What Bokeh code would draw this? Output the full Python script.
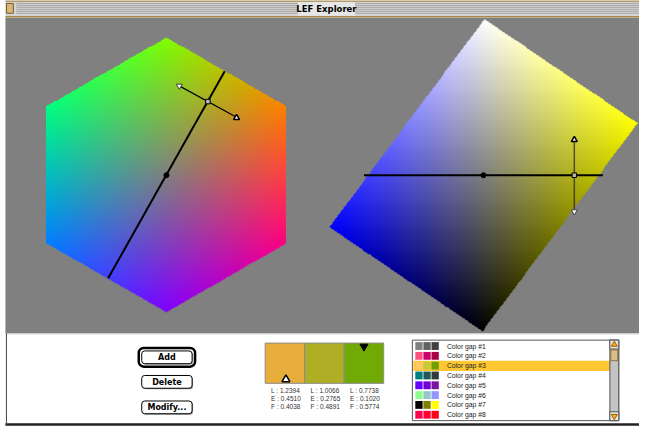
import numpy as np
from bokeh.plotting import figure
from bokeh.models import Range1d, ColumnDataSource
from bokeh.embed import file_html
from bokeh.resources import INLINE
from bokeh.core.properties import value

# ---------------- data ----------------
window_title = "LEF Explorer"
button_labels = ["Add", "Delete", "Modify..."]
swatch_colors = ["#e8ae3c", "#afae24", "#70aa02"]
L_vals = [1.2394, 1.0066, 0.7738]
E_vals = [0.4510, 0.2765, 0.1020]
F_vals = [0.4038, 0.4891, 0.5774]
gap_names = ["Color gap #1", "Color gap #2", "Color gap #3", "Color gap #4",
             "Color gap #5", "Color gap #6", "Color gap #7", "Color gap #8"]
gap_colors = [
    ["#808080", "#606060", "#404040"],
    ["#ff5080", "#c8006e", "#aa0046"],
    ["#ffc864", "#c8c83c", "#6ea000"],
    ["#008080", "#1e5a5a", "#323c3c"],
    ["#6400ff", "#6e00d2", "#7814a0"],
    ["#8cff8c", "#96c8c8", "#9696ff"],
    ["#000000", "#808000", "#ffff00"],
    ["#ff0050", "#ff0032", "#ff0014"],
]
selected_gap = 2

# ---------------- layout helpers ----------------
WR, HR = 647, 435


def Y(y):
    return HR - y


p = figure(width=639, height=427, x_range=Range1d(0, WR), y_range=Range1d(0, HR),
           output_backend="svg", toolbar_location=None, min_border=0,
           x_axis_location=None, y_axis_location=None)
p.grid.visible = False
p.outline_line_color = None
p.background_fill_color = "white"
p.border_fill_color = "white"

# title bar
p.quad(left=[5], right=[WR], top=[Y(0)], bottom=[Y(17)], fill_color="#d4d4d4", line_color=None)
sy = [3, 5, 7, 9, 11, 13]
p.segment(x0=[16] * len(sy), x1=[WR] * len(sy), y0=[Y(v) for v in sy], y1=[Y(v) for v in sy],
          line_color="#a6a6a6", line_width=1)
p.quad(left=[301], right=[359], top=[Y(1.5)], bottom=[Y(15.5)], fill_color="#e6e6e6", line_color=None)
p.text(x=[330], y=[Y(8.5)], text=[window_title], text_font=value("DejaVu Sans"),
       text_font_size=value("8.5px"), text_font_style="bold", text_align="center",
       text_baseline="middle", text_color="black")
p.quad(left=[6], right=[13], top=[Y(3)], bottom=[Y(13)], fill_color="#d8b878", line_color="#7a5a28")
p.segment(x0=[5, 5], x1=[WR, WR], y0=[Y(0.5), Y(16.5)], y1=[Y(0.5), Y(16.5)],
          line_color="#a88844", line_width=1.5)

# content grey
p.quad(left=[5], right=[WR], top=[Y(17.5)], bottom=[Y(339)], fill_color="#808080", line_color=None)


# hexagon colour plane
def hex_image():
    x0, x1, y0, y1 = 44, 292, 36, 320
    s = 2
    nx, ny = (x1 - x0) * s, (y1 - y0) * s
    xs = x0 + (np.arange(nx) + 0.5) / s
    ys = y0 + (np.arange(ny) + 0.5) / s
    X, YY = np.meshgrid(xs, ys)
    cx, cy, R = 167.5, 178.0, 139.5
    u = (X - cx) / R
    v = -(YY - cy) / R
    r = 128 + 146.6 * u
    g = 128 - 73.3 * u + 127 * v
    b = 128 - 73.9 * u - 128 * v
    mask = (np.abs(u) <= np.sqrt(3) / 2) & (np.abs(v) + np.abs(u) / np.sqrt(3) <= 1)
    img = np.zeros((ny, nx), dtype=np.uint32)
    view = img.view(dtype=np.uint8).reshape((ny, nx, 4))
    view[..., 0] = np.clip(r, 0, 255)
    view[..., 1] = np.clip(g, 0, 255)
    view[..., 2] = np.clip(b, 0, 255)
    view[..., 3] = np.where(mask, 255, 0)
    return img[::-1], x0, y1, x1 - x0, y1 - y0


img, ix, iy, dw, dh = hex_image()
p.image_rgba(image=[img], x=ix, y=Y(iy), dw=dw, dh=dh)


# lightness / yellow-blue plane
def rect_image():
    x0, x1, y0, y1 = 328, WR, 16, 340
    s = 2
    nx, ny = (x1 - x0) * s, (y1 - y0) * s
    xs = x0 + (np.arange(nx) + 0.5) / s
    ys = y0 + (np.arange(ny) + 0.5) / s
    X, YY = np.meshgrid(xs, ys)
    cx, cy = 489.0, 178.0
    a = np.array([156.0, -53.0])
    bvec = np.array([1.0, -159.0])
    M = np.array([[a[0], bvec[0]], [a[1], bvec[1]]])
    Mi = np.linalg.inv(M)
    dx, dy = X - cx, YY - cy
    sa = Mi[0, 0] * dx + Mi[0, 1] * dy
    tb = Mi[1, 0] * dx + Mi[1, 1] * dy
    mask = np.abs(sa) + np.abs(tb) <= 1
    r = 127.5 + 127.5 * sa + 127.5 * tb
    b = 127.5 - 127.5 * sa + 127.5 * tb
    img = np.zeros((ny, nx), dtype=np.uint32)
    view = img.view(dtype=np.uint8).reshape((ny, nx, 4))
    view[..., 0] = np.clip(r, 0, 255)
    view[..., 1] = np.clip(r, 0, 255)
    view[..., 2] = np.clip(b, 0, 255)
    view[..., 3] = np.where(mask, 255, 0)
    return img[::-1], x0, y1, x1 - x0, y1 - y0


img2, ix2, iy2, dw2, dh2 = rect_image()
p.image_rgba(image=[img2], x=ix2, y=Y(iy2), dw=dw2, dh=dh2)

# hexagon overlays
p.segment(x0=[109], y0=[Y(283)], x1=[227], y1=[Y(72)], line_color="black", line_width=2)
p.segment(x0=[181], y0=[Y(87)], x1=[239], y1=[Y(119)], line_color="black", line_width=1.2)
p.scatter(x=[168], y=[Y(178)], size=5, marker="circle", color="black")
p.scatter(x=[210], y=[Y(103)], size=4.5, marker="square", fill_color="#b8b8c8", line_color="black")
p.scatter(x=[181], y=[Y(87)], size=6, marker="inverted_triangle", fill_color="white", line_color="#444444")
p.scatter(x=[239], y=[Y(119.5)], size=6, marker="triangle", fill_color="white", line_color="black", line_width=1.5)

# rect overlays
p.segment(x0=[368], y0=[Y(178)], x1=[610], y1=[Y(178)], line_color="black", line_width=2)
p.segment(x0=[581], y0=[Y(142)], x1=[581], y1=[Y(215)], line_color="#222222", line_width=1.5, line_alpha=0.7)
p.scatter(x=[489], y=[Y(178)], size=5, marker="circle", color="black")
p.scatter(x=[581], y=[Y(178)], size=4.5, marker="square", fill_color="#b8b8a0", line_color="black")
p.scatter(x=[581], y=[Y(142)], size=6, marker="triangle", fill_color="white", line_color="black", line_width=1.5)
p.scatter(x=[581], y=[Y(215)], size=6, marker="inverted_triangle", fill_color="white", line_color="#444444")

# bottom panel
p.quad(left=[5], right=[WR], top=[Y(339)], bottom=[Y(431)], fill_color="white", line_color=None)
p.segment(x0=[5], x1=[WR], y0=[Y(339.5)], y1=[Y(339.5)], line_color="#bdbdbd", line_width=1)
p.segment(x0=[5], x1=[WR], y0=[Y(432)], y1=[Y(432)], line_color="#222222", line_width=2.5)
p.segment(x0=[6], x1=[6], y0=[Y(339)], y1=[Y(433)], line_color="#444444", line_width=1)

# buttons
btn_top = [357, 382, 408]
btn_h = 13
for i, lab in enumerate(button_labels):
    t = btn_top[i]
    p.quad(left=[144], right=[195], top=[Y(t + 1)], bottom=[Y(t + btn_h + 1)],
           fill_color="#9a9a9a", line_color=None, border_radius=3)
    p.quad(left=[143], right=[194], top=[Y(t)], bottom=[Y(t + btn_h)],
           fill_color="white", line_color="black", line_width=1, border_radius=3)
    p.text(x=[168.5], y=[Y(t + btn_h / 2 + 0.5)], text=[lab], text_font=value("DejaVu Sans"),
           text_font_size=value("8px"), text_font_style="bold", text_align="center",
           text_baseline="middle", text_color="black")
p.quad(left=[140], right=[197], top=[Y(354)], bottom=[Y(373)], fill_color=None,
       line_color="black", line_width=2.5, border_radius=5)

# swatches
sw_left = [268, 308, 348]
p.quad(left=sw_left, right=[v + 40 for v in sw_left], top=[Y(349)] * 3, bottom=[Y(390)] * 3,
       fill_color=swatch_colors, line_color="#8a8a8a", line_width=1)
p.scatter(x=[289], y=[Y(386)], size=8, marker="triangle", fill_color="white", line_color="black", line_width=1.5)
p.scatter(x=[368], y=[Y(352.5)], size=8, marker="inverted_triangle", fill_color="black", line_color="black")
tx, ty, tt = [], [], []
for i in range(3):
    for j, (lab, vals) in enumerate([("L", L_vals), ("E", E_vals), ("F", F_vals)]):
        tx.append(sw_left[i] + 6)
        ty.append(Y(397.5 + 8.2 * j))
        tt.append(f"{lab} : {vals[i]:.4f}")
p.text(x=tx, y=ty, text=tt, text_font=value("Liberation Sans"), text_font_size=value("6.5px"),
       text_baseline="middle", text_align="left", text_color="#333333")

# list box
p.quad(left=[417], right=[626], top=[Y(346)], bottom=[Y(428)], fill_color="white", line_color="#555555")
p.quad(left=[418], right=[617], top=[Y(367)], bottom=[Y(377.5)], fill_color="#ffc833", line_color=None)
ql, qr, qt, qb, qc = [], [], [], [], []
lx, ly = [], []
for i, name in enumerate(gap_names):
    yc = 352 + 10 * i
    for j in range(3):
        ql.append(420 + 8.2 * j)
        qr.append(420 + 8.2 * j + 7.4)
        qt.append(Y(yc - 4))
        qb.append(Y(yc + 4))
        qc.append(gap_colors[i][j])
    lx.append(452)
    ly.append(Y(yc))
p.quad(left=ql, right=qr, top=qt, bottom=qb, fill_color=qc, line_color=None)
p.text(x=lx, y=ly, text=gap_names, text_font=value("Liberation Sans"), text_font_size=value("6.8px"),
       text_baseline="middle", text_align="left", text_color="#222222")

# scrollbar
p.quad(left=[617], right=[626], top=[Y(346)], bottom=[Y(428)], fill_color="#c4c4c4", line_color="#555555")
p.quad(left=[617], right=[626], top=[Y(346)], bottom=[Y(355)], fill_color="#e8e8e8", line_color="#555555")
p.quad(left=[617], right=[626], top=[Y(419)], bottom=[Y(428)], fill_color="#e8e8e8", line_color="#555555")
p.quad(left=[618], right=[625], top=[Y(356)], bottom=[Y(367)], fill_color="#d9c08a", line_color="#8a7040")
p.scatter(x=[621.5], y=[Y(350.5)], size=6, marker="triangle", fill_color="#f0b030", line_color="#a06000")
p.scatter(x=[621.5], y=[Y(423.5)], size=6, marker="inverted_triangle", fill_color="#f0b030", line_color="#a06000")

open("out.html", "w").write(file_html(p, INLINE))
